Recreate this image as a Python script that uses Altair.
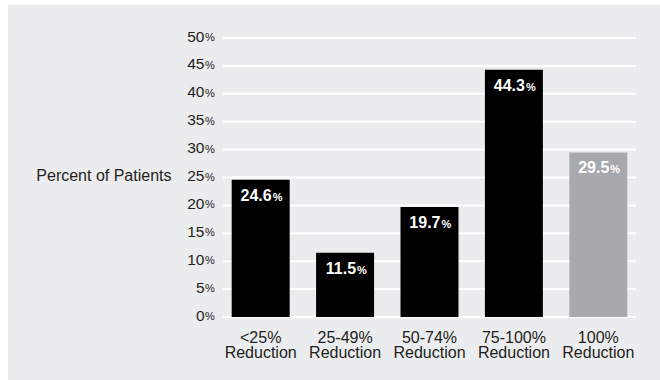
import altair as alt
import pandas as pd

categories = ["<25%", "25-49%", "50-74%", "75-100%", "100%"]
values = [24.6, 11.5, 19.7, 44.3, 29.5]
bar_colors = ["#000000", "#000000", "#000000", "#000000", "#a7a9ac"]
tick_values = [0, 5, 10, 15, 20, 25, 30, 35, 40, 45, 50]

W, H = 413, 279
FONT = "Liberation Sans"
TXT = "#231f20"

df = pd.DataFrame({"cat": categories, "val": values, "color": bar_colors,
                   "num": [f"{v:.1f}" for v in values]})
ticks = pd.DataFrame({"val": tick_values})
bgdf = pd.DataFrame({"a": [0]})

xscale = alt.Scale(domain=categories, paddingInner=0.313, paddingOuter=0.103)
yscale = alt.Scale(domain=[0, 50], nice=False, zero=True)

xaxis = alt.Axis(title=None, labelAngle=0, domain=False, ticks=False, zindex=2,
                 labelPadding=12, labelFontSize=16, labelFont=FONT,
                 labelColor=TXT, labelLineHeight=15.5,
                 labelExpr="[datum.label, 'Reduction']")
yaxis = alt.Axis(title="Percent of Patients", values=tick_values, format="d",
                 grid=False, domain=False, ticks=False, labelPadding=19, zindex=2,
                 labelFontSize=15.5, labelFont=FONT, labelColor=TXT,
                 labelBaseline="alphabetic", labelOffset=3,
                 titleAngle=0, titleAlign="right", titleBaseline="alphabetic",
                 titleX=-52, titleY=142.5, titleFontSize=16,
                 titleFontWeight="normal", titleFont=FONT, titleColor=TXT)

X = alt.X("cat:N", sort=categories, scale=xscale, axis=xaxis)
Y = alt.Y("val:Q", scale=yscale, axis=yaxis)

bg = alt.Chart(bgdf).mark_rect(color="#ebecee").encode(
    x=alt.value(-215), x2=alt.value(W + 30),
    y=alt.value(-33), y2=alt.value(H + 70),
)

grid = alt.Chart(ticks).mark_rule(color="white", strokeWidth=2).encode(
    y=Y, x=alt.value(0), x2=alt.value(W),
)

pct = alt.Chart(ticks).mark_text(align="left", baseline="alphabetic", dy=3, dx=-18,
                                 fontSize=11, font=FONT, color=TXT).encode(
    y=Y, x=alt.value(0), text=alt.value("%"),
)

bars = alt.Chart(df).mark_bar().encode(
    x=X, y=Y, color=alt.Color("color:N", scale=None),
)

numtxt = alt.Chart(df).mark_text(align="right", baseline="alphabetic", dx=11, dy=21,
                                 fontSize=16, fontWeight="bold", font=FONT,
                                 color="white").encode(
    x=X, y=Y, text="num:N",
)

pcttxt = alt.Chart(df).mark_text(align="left", baseline="alphabetic", dx=12, dy=21,
                                 fontSize=11, fontWeight="bold", font=FONT,
                                 color="white").encode(
    x=X, y=Y, text=alt.value("%"),
)

chart = alt.layer(bg, grid, bars, numtxt, pcttxt, pct).properties(
    width=W, height=H,
    autosize=alt.AutoSizeParams(type="none"),
    padding={"left": 223, "top": 38, "right": 24, "bottom": 63},
    background="white",
).configure_view(stroke=None)

chart.save("out.html", embed_options={"renderer": "svg", "actions": False})
